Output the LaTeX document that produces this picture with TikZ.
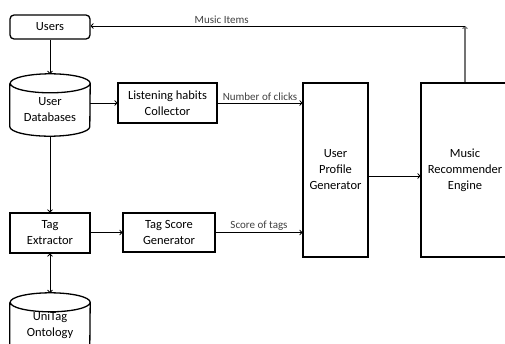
\documentclass[tikz,border=0pt]{standalone}
\usepackage{fontspec}
\setmainfont{Carlito}
\usetikzlibrary{calc,arrows.meta}
\newcommand\cylshape[1]{%
  \draw[line width=1.3pt] ($(#1.north west)+(0,-9.5)$) -- ($(#1.south west)+(0,9.5)$)
    arc[start angle=180,end angle=360,x radius=40pt,y radius=9.5pt]
    -- ($(#1.north east)+(0,-9.5)$)
    arc[start angle=0,end angle=180,x radius=40pt,y radius=9.5pt]
    arc[start angle=180,end angle=360,x radius=40pt,y radius=9.5pt];}
\begin{document}
\begin{tikzpicture}[x=1pt,y=1pt,
  txt/.style={align=center, font=\fontsize{12.5}{16}\selectfont, inner sep=0pt},
  box/.style={txt, draw, line width=1.3pt},
  dbnode/.style={inner sep=0pt, minimum width=80pt, minimum height=62pt},
  arr/.style={-{To[length=3pt,width=5.5pt]}, line width=0.8pt},
  dblarr/.style={{To[length=3pt,width=5.5pt]}-{To[length=3pt,width=5.5pt]}, line width=0.8pt},
  lbl/.style={font=\fontsize{11}{13}\selectfont, text=black!75}]
\useasboundingbox (0,0) rectangle (505,-343);
\clip (0,0) rectangle (505,-343);

\node[box, rounded corners=4pt, minimum width=80pt, minimum height=24pt] (users) at (50,-27) {Users};
\node[dbnode] (udb) at (50,-105) {};
\cylshape{udb}
\node[txt] (udbt) at (50,-110) {User\\Databases};
\node[box, minimum width=99pt, minimum height=40pt] (lhc) at (167.5,-103) {Listening habits\\Collector};
\node[box, minimum width=65pt, minimum height=174pt] (upg) at (335.5,-170) {User\\Profile\\Generator};
\node[box, minimum width=88pt, minimum height=174pt] (mre) at (465,-170) {Music\\Recommender\\Engine};
\node[box, minimum width=80pt, minimum height=40pt] (te) at (50,-233) {Tag\\Extractor};
\node[box, minimum width=92pt, minimum height=39pt] (tsg) at (169,-232.5) {Tag Score\\Generator};
\node[dbnode] (uot) at (50,-324) {};
\cylshape{uot}
\node[txt] (uott) at (50,-325) {UniTag\\Ontology};
\coordinate (corner) at (465,-26);

\draw[arr] (users) -- (udb);
\draw[arr] (udb.east |- lhc.west) -- (lhc.west);
\draw[arr] (lhc.east) -- node[lbl, above, inner sep=2pt] {Number of clicks} (lhc.east -| upg.west);
\draw[arr] (udb) -- (te);
\draw[arr] (te.east |- tsg.west) -- (tsg.west);
\draw[arr] (tsg.east) -- node[lbl, above, inner sep=2pt] {Score of tags} (tsg.east -| upg.west);
\draw[arr] ($(upg.east)+(0,-6)$) -- ($(mre.west)+(0,-6)$);
\draw[arr, draw=black!55, line width=1.1pt] (mre.north) -- (corner);
\draw[arr] (corner) -- node[lbl, above, pos=0.65, inner sep=2pt] {Music Items} (users.east |- corner);
\draw[dblarr] (te) -- (uot);
\end{tikzpicture}
\end{document}
